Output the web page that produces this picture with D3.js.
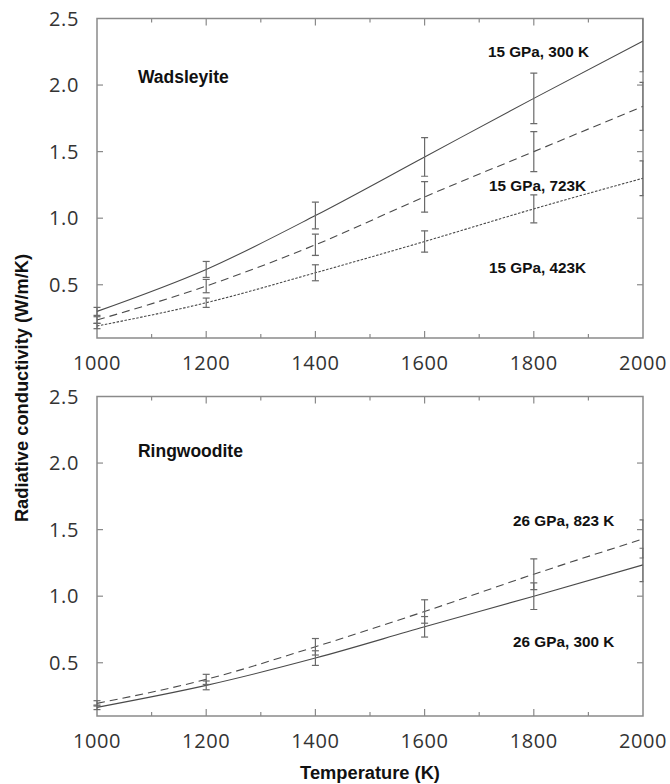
<!DOCTYPE html>
<html><head><meta charset="utf-8">
<script src="https://cdn.jsdelivr.net/npm/d3@7"></script>
<style>body{margin:0;background:#fff}svg{display:block}</style>
</head><body>
<svg id="c" width="670" height="784"></svg>
<script>
// ---- data ----
const temps = [1000, 1200, 1400, 1600, 1800, 2000];
const xTicks = [1000, 1200, 1400, 1600, 1800, 2000];
const xMinorTicks = [1100, 1300, 1500, 1700, 1900];
const yTicks = [0.5, 1.0, 1.5, 2.0, 2.5];

const wads300 = [0.30, 0.615, 1.02, 1.46, 1.90, 2.33];
const wads300Err = [0.03, 0.06, 0.10, 0.145, 0.19, 0.23];
const wads723 = [0.235, 0.49, 0.80, 1.16, 1.50, 1.84];
const wads723Err = [0.025, 0.05, 0.08, 0.115, 0.15, 0.18];
const wads423 = [0.19, 0.365, 0.59, 0.825, 1.07, 1.30];
const wads423Err = [0.02, 0.035, 0.06, 0.08, 0.105, 0.13];

const ring300 = [0.165, 0.33, 0.535, 0.77, 1.00, 1.235];
const ring300Err = [0.017, 0.033, 0.055, 0.077, 0.10, 0.125];
const ring823 = [0.195, 0.375, 0.62, 0.885, 1.165, 1.43];
const ring823Err = [0.02, 0.038, 0.062, 0.088, 0.115, 0.143];

const panels = [
  { name: "Wadsleyite", top: 18.5, bottom: 338,
    series: [
      { label: "15 GPa, 300 K", values: wads300, err: wads300Err, dash: null, lx: 1716, ly: 2.213 },
      { label: "15 GPa, 723K", values: wads723, err: wads723Err, dash: "8,5", lx: 1718, ly: 1.206 },
      { label: "15 GPa, 423K", values: wads423, err: wads423Err, dash: "2.5,1.5", lx: 1718, ly: 0.59 }
    ], nx: 1075, ny: 2.013 },
  { name: "Ringwoodite", top: 396.5, bottom: 716,
    series: [
      { label: "26 GPa, 823 K", values: ring823, err: ring823Err, dash: "8,5", lx: 1762, ly: 1.53 },
      { label: "26 GPa, 300 K", values: ring300, err: ring300Err, dash: null, lx: 1762, ly: 0.62 }
    ], nx: 1075, ny: 2.046 }
];

const svg = d3.select("#c");
const X0 = 97, X1 = 643;
const x = d3.scaleLinear().domain([1000, 2000]).range([X0, X1]);
const frameColor = "#8a8a8a";
const tickFont = "'Open Sans', 'DejaVu Sans', sans-serif";
const boldFont = "'Liberation Sans', Arial, sans-serif";

panels.forEach((p, pi) => {
  const y = d3.scaleLinear().domain([0.1, 2.5]).range([p.bottom, p.top]);
  const g = svg.append("g");
  const clipId = "clip" + pi;
  svg.append("defs").append("clipPath").attr("id", clipId)
    .append("rect").attr("x", X0 - 10).attr("y", p.top).attr("width", X1 - X0 + 10.5).attr("height", p.bottom - p.top);

  // frame
  g.append("rect").attr("x", X0).attr("y", p.top).attr("width", X1 - X0).attr("height", p.bottom - p.top)
    .attr("fill", "none").attr("stroke", frameColor).attr("stroke-width", 1.5);

  // ticks
  const tk = g.append("g").attr("stroke", frameColor).attr("stroke-width", 1.2);
  xTicks.concat(xMinorTicks).forEach(t => {
    const L = xMinorTicks.includes(t) ? 4 : 7;
    if (t === 1000 || t === 2000) return;
    tk.append("line").attr("x1", x(t)).attr("x2", x(t)).attr("y1", p.top).attr("y2", p.top + L);
    tk.append("line").attr("x1", x(t)).attr("x2", x(t)).attr("y1", p.bottom).attr("y2", p.bottom - L);
  });
  yTicks.forEach(v => {
    if (v === 2.5) return;
    tk.append("line").attr("x1", X0).attr("x2", X0 + 6).attr("y1", y(v)).attr("y2", y(v));
    tk.append("line").attr("x1", X1).attr("x2", X1 - 6).attr("y1", y(v)).attr("y2", y(v));
  });

  // tick labels
  yTicks.forEach(v => {
    g.append("text").attr("x", 79).attr("y", y(v)).attr("dy", "0.36em")
      .attr("text-anchor", "end").attr("font-family", tickFont).attr("font-size", 20)
      .attr("letter-spacing", 0.6).attr("fill", "#333").text(d3.format(".1f")(v));
  });
  xTicks.forEach(t => {
    g.append("text").attr("x", x(t)).attr("y", p.bottom + 25).attr("dy", "0.36em")
      .attr("text-anchor", "middle").attr("font-family", tickFont).attr("font-size", 20)
      .attr("letter-spacing", 0.6).attr("fill", "#333").text(t);
  });

  // lines
  const line = d3.line().x((d, i) => x(temps[i])).y(d => y(d)).curve(d3.curveMonotoneX);
  const plot = g.append("g").attr("clip-path", `url(#${clipId})`);
  p.series.forEach(s => {
    plot.append("path").attr("d", line(s.values)).attr("fill", "none")
      .attr("stroke", "#4a4a4a").attr("stroke-width", 1.1)
      .attr("stroke-dasharray", s.dash);
  });
  // error bars
  p.series.forEach(s => {
    const eb = plot.append("g").attr("stroke", "#6a6a6a").attr("stroke-width", 1.2);
    s.values.forEach((v, i) => {
      const cx = x(temps[i]), hi = y(v + s.err[i]), lo = y(v - s.err[i]);
      eb.append("line").attr("x1", cx).attr("x2", cx).attr("y1", hi).attr("y2", lo);
      eb.append("line").attr("x1", cx - 3.5).attr("x2", cx + 3.5).attr("y1", hi).attr("y2", hi);
      eb.append("line").attr("x1", cx - 3.5).attr("x2", cx + 3.5).attr("y1", lo).attr("y2", lo);
    });
  });

  // labels
  g.append("text").attr("x", x(p.nx)).attr("y", y(p.ny)).attr("font-family", boldFont)
    .attr("font-weight", "bold").attr("font-size", 17.5).attr("fill", "#111").text(p.name);
  p.series.forEach(s => {
    g.append("text").attr("x", x(s.lx)).attr("y", y(s.ly)).attr("font-family", boldFont)
      .attr("font-weight", "bold").attr("font-size", 15.3).attr("fill", "#111").text(s.label);
  });
});

// axis titles
svg.append("text").attr("transform", "translate(28,388) rotate(-90)")
  .attr("text-anchor", "middle").attr("font-family", boldFont).attr("font-weight", "bold")
  .attr("font-size", 18.3).attr("fill", "#111").text("Radiative conductivity (W/m/K)");
svg.append("text").attr("x", 370).attr("y", 779)
  .attr("text-anchor", "middle").attr("font-family", boldFont).attr("font-weight", "bold")
  .attr("font-size", 18.3).attr("fill", "#111").text("Temperature (K)");
</script>
</body></html>
